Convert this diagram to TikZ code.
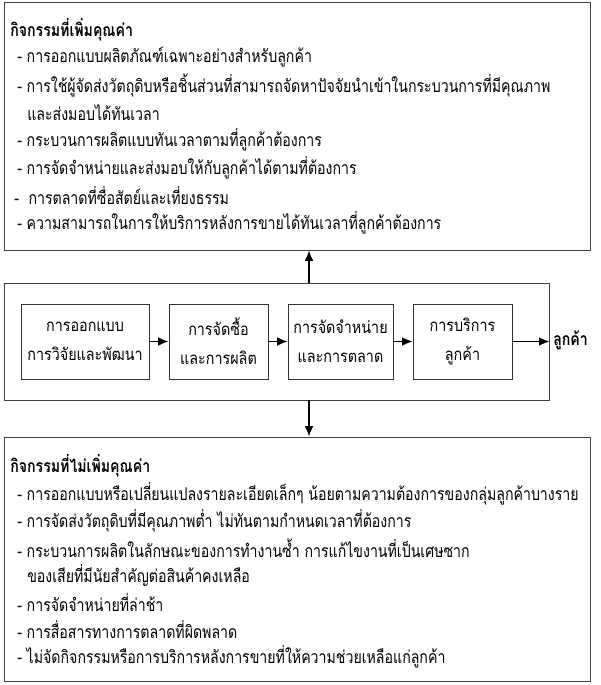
\documentclass[tikz,border=0pt]{standalone}
\usepackage{fontspec}
\usepackage{tikz}
\usetikzlibrary{positioning,arrows.meta}
\newfontfamily\thaifont[Script=Thai,FakeStretch=0.805]{Loma}
\newfontfamily\thaibox[Script=Thai,FakeStretch=0.85]{Loma}

\tikzset{
  bigbox/.style={draw=black!75, line width=0.6pt, inner sep=0pt},
  procbox/.style={draw=black!80, line width=0.6pt, inner sep=0pt, align=center,
    font=\thaibox\fontsize{12}{20.5}\selectfont},
  listline/.style={anchor=west, inner sep=0pt, font=\thaifont\fontsize{12.5}{15}\selectfont},
  headline/.style={anchor=west, inner sep=0pt, font=\thaifont\fontsize{12.5}{15}\selectfont\bfseries},
  arr/.style={-{Latex[length=2.6mm,width=2.2mm]}, line width=1.1pt}
}

\begin{document}
\begin{tikzpicture}
			%%%%% FRAME %%%%%
			\useasboundingbox (0, 0) rectangle (15, 17.125);
			
			\node[bigbox, minimum width=14.65cm, minimum height=6.2cm] (valueadd) at (7.425, 13.975) {};
			\node[bigbox, minimum width=13.625cm, minimum height=2.925cm] (chain) at (6.9125, 8.5875) {};
			\node[bigbox, minimum width=14.65cm, minimum height=6.1cm] (nonvalue) at (7.425, 3.15) {};
			
			%%%%% VALUE ADDED %%%%%
			\node[headline] (vhead) at (0.25, 16.375) {กิจกรรมที่เพิ่มคุณค่า};
			\node[listline] (v1) at (0.425, 15.69) {- การออกแบบผลิตภัณฑ์เฉพาะอย่างสำหรับลูกค้า};
			\node[listline] (v2) at (0.425, 15.0) {- การใช้ผู้จัดส่งวัตถุดิบหรือชิ้นส่วนที่สามารถจัดหาปัจจัยนำเข้าในกระบวนการที่มีคุณภาพ};
			\node[listline] (v2b) at (0.675, 14.31) {และส่งมอบได้ทันเวลา};
			\node[listline] (v3) at (0.425, 13.62) {- กระบวนการผลิตแบบทันเวลาตามที่ลูกค้าต้องการ};
			\node[listline] (v4) at (0.425, 12.93) {- การจัดจำหน่ายและส่งมอบให้กับลูกค้าได้ตามที่ต้องการ};
			\node[listline] (v5) at (0.35, 12.24) {-\ \ การตลาดที่ซื่อสัตย์และเที่ยงธรรม};
			\node[listline] (v6) at (0.425, 11.55) {- ความสามารถในการให้บริการหลังการขายได้ทันเวลาที่ลูกค้าต้องการ};
			
			%%%%% CHAIN %%%%%
			\node[procbox, minimum width=3.2cm, minimum height=1.875cm] (design) at (2.125, 8.5875) {การออกแบบ\\การวิจัยและพัฒนา};
			\node[procbox, minimum width=2.475cm, minimum height=1.875cm] (buy) at (5.4625, 8.5875) {การจัดซื้อ\\และการผลิต};
			\node[procbox, minimum width=2.625cm, minimum height=1.875cm] (sell) at (8.5125, 8.5875) {การจัดจำหน่าย\\และการตลาด};
			\node[procbox, minimum width=2.475cm, minimum height=1.875cm] (service) at (11.5625, 8.5875) {การบริการ\\ลูกค้า};
			\node[anchor=west, inner sep=0pt, font=\thaifont\fontsize{12.5}{15}\selectfont\bfseries] (customer) at (13.825, 8.62) {ลูกค้า};
			
			\draw[arr] (design) -- (buy);
			\draw[arr] (buy) -- (sell);
			\draw[arr] (sell) -- (service);
			\draw[arr] (service) -- (chain.east |- service.east);
			
			\coordinate (upfoot) at (7.725, 10.05);
			\coordinate (downfoot) at (7.725, 7.125);
			\draw[arr] (upfoot) -- (upfoot |- valueadd.south);
			\draw[arr] (downfoot) -- (downfoot |- nonvalue.north);
			
			%%%%% NON VALUE ADDED %%%%%
			\node[headline] (nhead) at (0.25, 5.475) {กิจกรรมที่ไม่เพิ่มคุณค่า};
			\node[listline] (n1) at (0.425, 4.79) {- การออกแบบหรือเปลี่ยนแปลงรายละเอียดเล็กๆ น้อยตามความต้องการของกลุ่มลูกค้าบางราย};
			\node[listline] (n2) at (0.425, 4.11) {- การจัดส่งวัตถุดิบที่มีคุณภาพต่ำ ไม่ทันตามกำหนดเวลาที่ต้องการ};
			\node[listline] (n3) at (0.425, 3.43) {- กระบวนการผลิตในลักษณะของการทำงานซ้ำ การแก้ไขงานที่เป็นเศษซาก};
			\node[listline] (n3b) at (0.675, 2.75) {ของเสียที่มีนัยสำคัญต่อสินค้าคงเหลือ};
			\node[listline] (n4) at (0.425, 2.07) {- การจัดจำหน่ายที่ล่าช้า};
			\node[listline] (n5) at (0.425, 1.39) {- การสื่อสารทางการตลาดที่ผิดพลาด};
			\node[listline] (n6) at (0.425, 0.71) {- ไม่จัดกิจกรรมหรือการบริการหลังการขายที่ให้ความช่วยเหลือแก่ลูกค้า};
\end{tikzpicture}
\end{document}
